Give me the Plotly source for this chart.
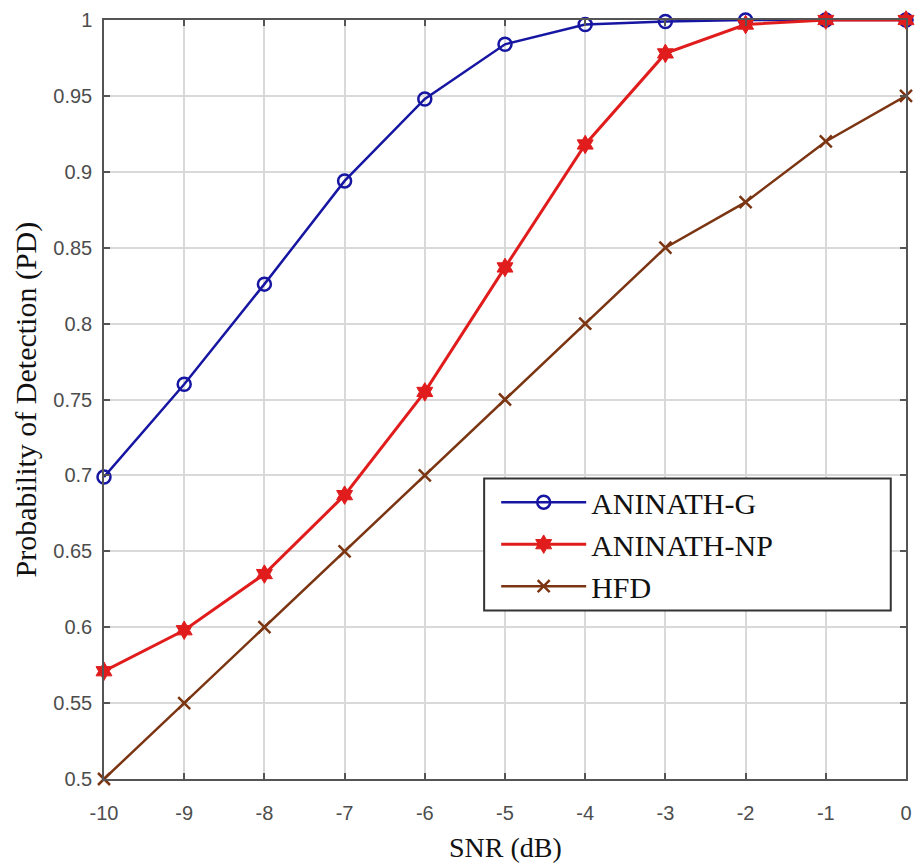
import plotly.graph_objects as go

snr = [-10, -9, -8, -7, -6, -5, -4, -3, -2, -1, 0]
pd_g = [0.699, 0.760, 0.826, 0.894, 0.948, 0.984, 0.997, 0.999, 1.0, 1.0, 1.0]
pd_np = [0.571, 0.598, 0.635, 0.687, 0.755, 0.837, 0.918, 0.978, 0.997, 1.0, 1.0]
pd_hfd = [0.50, 0.55, 0.60, 0.65, 0.70, 0.75, 0.80, 0.85, 0.88, 0.92, 0.95]
names = ["ANINATH-G", "ANINATH-NP", "HFD"]
y_ticks = [0.5, 0.55, 0.6, 0.65, 0.7, 0.75, 0.8, 0.85, 0.9, 0.95, 1]
y_tick_text = ["0.5", "0.55", "0.6", "0.65", "0.7", "0.75", "0.8", "0.85", "0.9", "0.95", "1"]
x_ticks = [-10, -9, -8, -7, -6, -5, -4, -3, -2, -1, 0]
x_tick_text = ["-10", "-9", "-8", "-7", "-6", "-5", "-4", "-3", "-2", "-1", "0"]

fig = go.Figure()
fig.add_trace(go.Scatter(
    x=snr, y=pd_g, name=names[0], mode="lines+markers", cliponaxis=False,
    line=dict(color="#1616a2", width=2.5),
    marker=dict(symbol="circle-open", size=13, color="#1616a2", line=dict(width=2.5, color="#1616a2")),
))
fig.add_trace(go.Scatter(
    x=snr, y=pd_np, name=names[1], mode="lines+markers", cliponaxis=False,
    line=dict(color="#e01c1c", width=3),
    marker=dict(symbol="hexagram", size=14, color="#e01c1c", line=dict(width=1, color="#e01c1c")),
))
fig.add_trace(go.Scatter(
    x=snr, y=pd_hfd, name=names[2], mode="lines+markers", cliponaxis=False,
    line=dict(color="#7b3512", width=2.5),
    marker=dict(symbol="x-thin-open", size=12, color="#7b3512", line=dict(width=2.5, color="#7b3512")),
))

axis_common = dict(
    showgrid=True, gridcolor="#d9d9d9", gridwidth=1.5,
    showline=True, linecolor="#555555", linewidth=1.5, mirror="ticks",
    ticks="inside", ticklen=6, tickwidth=1.5, tickcolor="#555555",
    tickfont=dict(family="Liberation Sans", size=20, color="#4d4d4d"),
    zeroline=False,
)

fig.update_xaxes(range=[-10, 0], tickmode="array", tickvals=x_ticks, ticktext=x_tick_text,
                 ticklabelstandoff=15, **axis_common)
fig.update_yaxes(range=[0.5, 1], tickmode="array", tickvals=y_ticks, ticktext=y_tick_text,
                 ticklabelstandoff=6, **axis_common)

fig.add_annotation(text="SNR (dB)", xref="paper", yref="paper", x=0.5, y=0,
                   xanchor="center", yanchor="middle", yshift=-68, showarrow=False,
                   font=dict(family="Liberation Serif", size=28, color="#111111"))
fig.add_annotation(text="Probability of Detection (PD)", xref="paper", yref="paper", x=0, y=0.5,
                   xanchor="center", yanchor="middle", xshift=-79, textangle=-90, showarrow=False,
                   font=dict(family="Liberation Serif", size=30, color="#111111"))

# legend frame (MATLAB-style wide box)
fig.add_shape(type="rect", xref="paper", yref="paper", x0=0.474, x1=0.981, y0=0.222, y1=0.396,
              layer="above", fillcolor="white", line=dict(color="#333333", width=2))

fig.update_layout(
    width=921, height=867,
    margin=dict(l=104, r=9, t=16, b=88),
    plot_bgcolor="white", paper_bgcolor="white",
    showlegend=True,
    legend=dict(x=0.489, y=0.399, xanchor="left", yanchor="top",
                bgcolor="rgba(0,0,0,0)", borderwidth=0,
                font=dict(family="Liberation Serif", size=30, color="#111111"),
                itemwidth=85, tracegroupgap=0),
)

fig.write_html("out.html")
